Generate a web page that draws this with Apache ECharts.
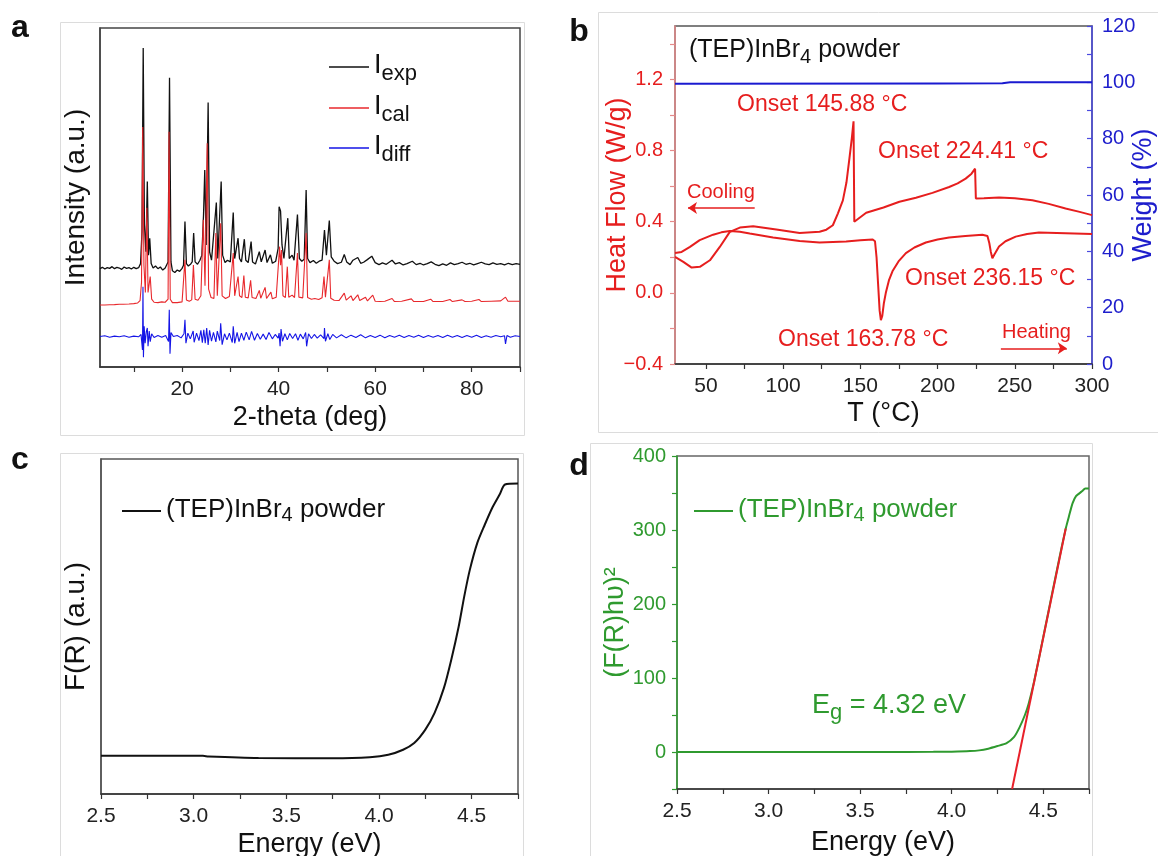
<!DOCTYPE html>
<html><head><meta charset="utf-8">
<script src="https://cdn.jsdelivr.net/npm/echarts@6/dist/echarts.min.js"></script>
<style>html,body{margin:0;padding:0;background:#fff}#c{width:1158px;height:856px}</style>
</head><body><div id="c"></div>
<script>
// ---------- Panel a : XRD ----------
const xrdExp = [[3,29.0],[3.5,29.4],[4,28.9],[4.5,29.3],[5,29.1],[5.5,29.6],[6,29.0],[6.5,29.4],[7,29.2],[7.5,28.8],[8,29.5],[8.5,29.1],[9,29.3],[9.5,28.9],[10,29.4],[10.5,29.0],[11,29.3],[11.4,30.5],[11.7,40],[11.95,94.1],[12.2,42],[12.5,34],[12.8,54.7],[13.05,33],[13.3,38],[13.6,30.5],[14,29.2],[14.5,29.8],[15,29],[15.5,29.5],[16,28.6],[16.5,29.2],[17.1,31],[17.4,85.3],[17.7,31],[18,28.4],[18.5,27.9],[19,28.6],[19.5,28.2],[20,29.1],[20.3,30],[20.6,42.9],[20.9,30.5],[21.3,29.8],[21.8,30.4],[22.1,31],[22.4,39.5],[22.7,31],[23.2,30.3],[23.7,31.5],[24.1,33],[24.45,45],[24.7,58.1],[25.0,36],[25.4,78.0],[25.7,34],[26.1,31.5],[26.5,31.0],[27.1,48.5],[27.4,32],[27.8,31.5],[28.1,54.7],[28.4,33],[28.9,30.8],[29.4,31.5],[30.0,31],[30.6,45.6],[30.9,32],[31.3,31.5],[31.6,38],[31.9,32],[32.3,31],[32.9,37.7],[33.2,31.5],[33.7,30.8],[34.3,37],[34.6,31],[35.2,30.4],[36.0,34],[36.4,31],[37.2,34.5],[37.6,30.8],[38.3,33.1],[38.7,30.6],[39.4,31.2],[39.9,35],[40.1,47.3],[40.4,46],[40.7,36],[41.1,32],[41.9,43.9],[42.2,32],[42.8,33],[43.2,31.5],[43.9,45],[44.3,32],[44.8,31.2],[45.3,31.8],[45.7,52.2],[46.0,32],[46.5,30.8],[47.2,31.4],[47.8,30.6],[48.4,31.2],[49.0,31.5],[49.5,40.4],[49.9,33],[50.5,43.2],[50.9,32.5],[51.5,31.2],[52.2,30.5],[53.0,30.9],[53.6,33.2],[54.1,31],[54.8,30.2],[55.4,31.5],[56.4,32.3],[57,30.6],[57.6,30.9],[58.3,31.6],[59.3,32.7],[60,30.8],[60.8,30.2],[61.5,30.7],[62.3,30.3],[63.5,31.5],[64.2,30.4],[65,30.8],[65.8,30.1],[66.6,30.5],[67.7,31.2],[68.5,30.2],[69.3,30.6],[70,30.1],[70.8,30.5],[71.6,31.0],[72.4,30.3],[73.2,29.9],[74,30.4],[74.8,30.0],[75.6,30.7],[76.4,30.2],[77.2,30.5],[78,30.9],[78.8,30.3],[79.6,30.6],[80.4,30.1],[81.2,30.5],[82,30.9],[82.8,30.4],[83.6,30.2],[84.4,30.7],[85.2,30.3],[86,30.5],[86.8,30.1],[87.6,30.6],[88.4,30.2],[89.2,30.5],[90,30.3]];
const xrdCal = [[3,18.3],[4,18.3],[5,18.35],[6,18.4],[7,18.5],[7.4,18.9],[7.8,18.5],[9,18.6],[10,18.7],[10.8,18.9],[11.3,19.6],[11.6,25],[11.85,70.8],[12.1,30],[12.4,22],[12.7,47],[12.95,22],[13.4,26.7],[13.7,20],[14.2,19.1],[15,19],[15.8,19.2],[16.5,19.1],[17.1,20],[17.3,69.4],[17.55,20],[18,19],[19,19],[20,19.2],[20.3,19.6],[20.6,31.6],[20.9,19.8],[21.5,19.4],[22,19.8],[22.35,30.1],[22.7,20],[23.3,19.7],[23.9,21],[24.4,43.4],[24.75,24],[25.2,66],[25.5,23],[26,20.5],[26.6,20.2],[27.0,39.5],[27.3,21],[27.7,20.5],[28.0,42.4],[28.3,21],[29,20.2],[29.8,20.8],[30.6,33.6],[30.9,21],[31.3,20.6],[31.6,26.7],[31.9,21],[32.4,20.5],[32.8,27],[33.1,20.6],[33.7,20.4],[34.2,25.6],[34.5,20.5],[35.3,20.2],[36,22.6],[36.3,20.3],[37.2,23.5],[37.5,20.2],[38.4,22.1],[38.7,20.1],[39.5,20.6],[40.2,35.5],[40.4,30],[40.6,34.5],[40.9,21],[41.4,20.5],[41.8,29.6],[42.1,20.6],[42.8,21.2],[43.3,20.5],[43.9,33.6],[44.2,20.6],[45,20.4],[45.7,39.5],[46,20.5],[46.8,20],[47.5,20.2],[48.3,19.9],[49,20.4],[49.4,26.7],[49.7,20.6],[50.5,31.6],[50.8,20.3],[51.5,19.7],[52.5,19.6],[53.6,21.8],[54,19.7],[55,21],[55.4,19.6],[56.4,21.3],[56.8,19.6],[58,20.6],[58.4,19.5],[59.5,21.2],[60,19.4],[61,19.3],[62,19.4],[63.5,20.2],[64,19.3],[65.5,19.4],[67.5,20.1],[68,19.3],[70,19.3],[71.5,20],[72,19.3],[74,19.3],[75.5,19.9],[76,19.3],[78,19.8],[78.6,19.3],[80,19.4],[81.5,19.9],[82,19.3],[84,19.4],[86,19.5],[87,20.6],[87.5,19.4],[89,19.4],[90,19.4]];
const xrdDiff = [[3,9.0],[4,9.2],[5,8.8],[6,9.1],[7,8.9],[8,9.2],[9,8.8],[10,9.1],[11,8.9],[11.5,9.6],[11.8,5],[11.9,23.7],[12.0,2.9],[12.15,12],[12.35,7],[12.6,10.5],[12.8,11.5],[12.95,6.1],[13.2,10.6],[13.4,7.5],[13.7,9.8],[14.2,8.7],[15,9.3],[15.8,8.8],[16.6,9.3],[17.2,7.5],[17.35,16.9],[17.5,3.9],[17.7,10.2],[18.2,9.0],[19,9.3],[19.8,8.6],[20.4,9.8],[20.6,13.9],[20.8,7.0],[21.2,10.0],[21.7,8.3],[22.3,10.6],[22.5,7.3],[23,10],[23.5,7.8],[23.9,10.8],[24.2,7.2],[24.5,11],[24.8,7],[25.1,11.5],[25.4,6.5],[25.7,10.8],[26.1,7.6],[26.5,10.2],[27,7.4],[27.3,10.6],[27.8,7.8],[28.0,12.9],[28.3,6.6],[28.8,9.8],[29.3,8.0],[29.8,10],[30.4,7.2],[30.6,12],[30.9,7],[31.4,10.2],[31.8,7.5],[32.3,10],[32.8,7.9],[33.3,10.3],[33.9,8],[34.4,10.5],[35,7.9],[35.6,9.9],[36.2,8.2],[36.8,9.7],[37.4,8.1],[38,10.2],[38.7,8.3],[39.3,9.6],[39.9,8.5],[40.1,10],[40.3,6.1],[40.5,11.2],[40.8,7.6],[41.3,9.8],[41.8,8],[42.3,9.9],[42.9,8.4],[43.5,9.8],[44,7.9],[44.5,9.7],[45.1,8.3],[45.6,10.2],[45.8,6.1],[46.2,9.8],[46.8,8.4],[47.4,9.6],[48,8.5],[48.7,9.5],[49.4,8.4],[49.5,11.5],[49.7,7.6],[50.2,9.8],[50.6,8.1],[51.2,9.6],[52,8.6],[53,9.5],[54,8.6],[55,9.4],[56,8.7],[57,9.5],[58,8.6],[59,9.3],[60,8.7],[61,9.4],[62,8.6],[63,9.3],[64,8.8],[65,9.4],[66,8.7],[67,9.3],[68,8.8],[69,9.4],[70,8.7],[71,9.3],[72,8.8],[73,9.3],[74,8.7],[75,9.4],[76,8.8],[77,9.3],[78,8.7],[79,9.3],[80,8.8],[81,9.4],[82,8.7],[83,9.2],[84,8.8],[85,9.3],[86,8.9],[86.8,9.2],[87,6.8],[87.3,9.3],[88,8.8],[89,9.2],[90,9.0]];
const aTicks = [10,20,30,40,50,60,70,80,90];
const aLabels = [20,40,60,80];

// ---------- Panel b : DSC / TGA ----------
const dscHeating = [[30,0.224],[34.3,0.230],[39.7,0.258],[46,0.296],[54.7,0.327],[60,0.34],[65.5,0.348],[72,0.343],[78.4,0.333],[93.5,0.311],[110.7,0.292],[123.6,0.283],[140.8,0.288],[150,0.295],[158,0.300],[159.5,0.29],[160.5,0.2],[161.5,0.05],[162.5,-0.1],[163.3,-0.153],[164.2,-0.13],[165.2,-0.06],[166.5,0.0],[168.5,0.07],[170.8,0.121],[175,0.18],[179.5,0.223],[185,0.255],[192.4,0.283],[200,0.300],[207.5,0.311],[218,0.32],[229,0.326],[232.3,0.32],[233.5,0.28],[234.5,0.23],[235.5,0.195],[236.8,0.215],[239.8,0.26],[244,0.29],[250.6,0.316],[258,0.331],[265.6,0.339],[282.9,0.335],[300,0.331]];
const dscCooling = [[30,0.202],[35.4,0.174],[40.8,0.142],[46.1,0.146],[52.6,0.183],[59,0.258],[65.5,0.343],[72,0.367],[80.6,0.374],[95.6,0.356],[110.7,0.337],[123.6,0.343],[128,0.355],[132.2,0.38],[135.5,0.447],[138.7,0.52],[141,0.62],[143,0.76],[144.5,0.87],[145.6,0.964],[146.1,0.40],[153.8,0.45],[165,0.48],[175.3,0.512],[186,0.535],[196.7,0.562],[207.5,0.595],[213,0.615],[218.2,0.642],[222,0.67],[224.3,0.698],[224.8,0.530],[230,0.532],[239.8,0.536],[250,0.532],[261.4,0.521],[272,0.50],[282.9,0.474],[292,0.455],[300,0.437]];
const tgaWeight = [[30,99.5],[200,99.6],[242,99.7],[247,100],[300,100]];
const coolingArrow = [[81.6,0.477],[38.4,0.477]];
const heatingArrow = [[241,-0.312],[283.7,-0.312]];
const bXTicks = [50,75,100,125,150,175,200,225,250,275,300];
const bXLabels = [50,100,150,200,250,300];
const bHFTicks = [-0.4,-0.2,0,0.2,0.4,0.6,0.8,1.0,1.2,1.4];
const bHFLabels = [-0.4,0,0.4,0.8,1.2];
const bWTicks = [0,10,20,30,40,50,60,70,80,90,100,110,120];
const bWLabels = [0,20,40,60,80,100,120];

// ---------- Panel c : F(R) ----------
const frData = [[2.5,11.4],[3.05,11.4],[3.08,11.2],[3.35,10.75],[3.75,10.7],[3.95,11.0],[4.05,11.7],[4.13,13.2],[4.19,15.2],[4.25,19.2],[4.3,24.2],[4.35,31.6],[4.39,40.1],[4.43,50],[4.46,59],[4.49,66.9],[4.53,74.9],[4.57,80.3],[4.61,85.3],[4.65,89.3],[4.68,92.4],[4.75,92.7]];
// ---------- Panel d : Tauc ----------
const taucData = [[2.5,0],[2.8,0],[3.0,0.1],[3.3,0],[3.6,0.1],[3.9,0.2],[4.0,0.5],[4.1,1.2],[4.15,2.2],[4.2,4.5],[4.25,8],[4.3,12],[4.34,20],[4.37,33],[4.4,50],[4.42,65],[4.45,95],[4.5,155],[4.55,216],[4.6,276],[4.625,304],[4.64,318],[4.66,336],[4.68,346],[4.71,352],[4.73,356],[4.75,356]];
const taucFit = [[4.33,-50],[4.623,302]];
const eTicks = [2.5,2.75,3.0,3.25,3.5,3.75,4.0,4.25,4.5,4.75];
const eLabels = [2.5,3.0,3.5,4.0,4.5];
const dYTicks = [-50,0,50,100,150,200,250,300,350,400];
const dYLabels = [0,100,200,300,400];

const FONT = '"Liberation Sans", Arial, sans-serif';
const RED = '#e61e1e', BLUE = '#1e1ecc', GREEN = '#2f9a2f';

function xAx(grid, min, max, ticks, labels, name, gap, fmt, lineColor) {
  return {
    type:'value', gridIndex:grid, min:min, max:max, nameMoveOverlap:false,
    name:name, nameLocation:'middle', nameGap:gap,
    nameTextStyle:{fontFamily:FONT, fontSize:27, color:'#111'},
    axisLine:{show:true, onZero:false, lineStyle:{color:lineColor||'#333', width:1.5}},
    axisTick:{show:true, inside:false, length:5, customValues:ticks, lineStyle:{color:'#333', width:1.2}},
    axisLabel:{show:true, customValues:labels, margin:12, fontFamily:FONT, fontSize:21, color:'#222', formatter:fmt},
    splitLine:{show:false}
  };
}
const f1 = v => v.toFixed(1);
const fInt = v => String(v);

function legendA(name, top) {
  const sub = {I_exp:'exp', I_cal:'cal', I_diff:'diff'}[name];
  return {left:329, top:top, padding:0, orient:'vertical', selectedMode:false, data:[name], icon:'rect', itemWidth:40, itemHeight:1.6,
    formatter:()=> '{m|I}{s|' + sub + '}',
    textStyle:{padding:[14,0,0,0], rich:{
      m:{fontFamily:FONT, fontSize:27, lineHeight:27, verticalAlign:'top', color:'#111'},
      s:{fontFamily:FONT, fontSize:22, lineHeight:44, verticalAlign:'middle', color:'#111'}}}};
}
function richSub(color) {
  return {m:{fontFamily:FONT, fontSize:26, lineHeight:26, verticalAlign:'top', color:color},
          s:{fontFamily:FONT, fontSize:20, lineHeight:36, verticalAlign:'middle', color:color}};
}
function richSubG(color, fs, ss) {
  return {m:{fontFamily:FONT, fontSize:fs, lineHeight:fs, verticalAlign:'top', fill:color},
          s:{fontFamily:FONT, fontSize:ss, lineHeight:fs+14, verticalAlign:'middle', fill:color}};
}
function lbl(t, x, y) {
  return {type:'text', x:x, y:y, silent:true, style:{text:t, font:'bold 32px ' + FONT, fill:'#111', textAlign:'center', textVerticalAlign:'middle'}};
}
function ann(t, x, y, fs) {
  return {type:'text', x:x, y:y, silent:true, style:{text:t, font:fs + 'px ' + FONT, fill:RED, textAlign:'left', textVerticalAlign:'middle'}};
}

const option = {
  animation:false,
  backgroundColor:'#fff',
  grid:[
    {left:100, top:28, width:420, height:339, show:true, borderColor:'#444', borderWidth:1.5, outerBoundsMode:'none'},
    {left:675, top:26, width:417, height:338, show:true, borderColor:'#555', borderWidth:1.5, outerBoundsMode:'none'},
    {left:101, top:459, width:417, height:335, show:true, borderColor:'#555', borderWidth:1.5, outerBoundsMode:'none'},
    {left:677, top:456, width:412, height:333, show:true, borderColor:'#666', borderWidth:1.5, outerBoundsMode:'none'}
  ],
  xAxis:[
    xAx(0, 3, 90, aTicks, aLabels, '2-theta (deg)', 37, fInt),
    xAx(1, 30, 300, bXTicks, bXLabels, 'T (°C)', 36, fInt),
    xAx(2, 2.5, 4.75, eTicks, eLabels, 'Energy (eV)', 37, f1),
    xAx(3, 2.5, 4.75, eTicks, eLabels, 'Energy (eV)', 40, f1)
  ],
  yAxis:[
    {type:'value', gridIndex:0, min:0, max:100, nameMoveOverlap:false, name:'Intensity (a.u.)', nameLocation:'middle', nameGap:10, nameRotate:90,
      nameTextStyle:{fontFamily:FONT, fontSize:28, color:'#111'},
      axisLine:{show:true, onZero:false, lineStyle:{color:'#444', width:1.5}}, axisTick:{show:false}, axisLabel:{show:false}, splitLine:{show:false}},
    {type:'value', gridIndex:1, min:-0.4, max:1.5, position:'left', nameMoveOverlap:false, name:'Heat Flow (W/g)', nameLocation:'middle', nameGap:44, nameRotate:90,
      nameTextStyle:{fontFamily:FONT, fontSize:27, color:RED},
      axisLine:{show:true, onZero:false, lineStyle:{color:'#e58a8a', width:1.5}},
      axisTick:{show:true, length:5, customValues:bHFTicks, lineStyle:{color:'#e58a8a', width:1.2}},
      axisLabel:{show:true, customValues:bHFLabels, margin:12, fontFamily:FONT, fontSize:20, color:RED, formatter: v => (v<0?'\u2212':'') + Math.abs(v).toFixed(1)},
      splitLine:{show:false}},
    {type:'value', gridIndex:1, min:0, max:120, position:'right', nameMoveOverlap:false, name:'Weight (%)', nameLocation:'middle', nameGap:38, nameRotate:90,
      nameTextStyle:{fontFamily:FONT, fontSize:27, color:BLUE},
      axisLine:{show:true, onZero:false, lineStyle:{color:'#4a4ae0', width:1.5}},
      axisTick:{show:true, inside:true, length:5, customValues:bWTicks, lineStyle:{color:'#4a4ae0', width:1.2}},
      axisLabel:{show:true, customValues:bWLabels, margin:10, fontFamily:FONT, fontSize:20, color:BLUE},
      splitLine:{show:false}},
    {type:'value', gridIndex:2, min:0, max:100, nameMoveOverlap:false, name:'F(R) (a.u.)', nameLocation:'middle', nameGap:11, nameRotate:90,
      nameTextStyle:{fontFamily:FONT, fontSize:28, color:'#111'},
      axisLine:{show:true, onZero:false, lineStyle:{color:'#555', width:1.5}}, axisTick:{show:false}, axisLabel:{show:false}, splitLine:{show:false}},
    {type:'value', gridIndex:3, min:-50, max:400, nameMoveOverlap:false, name:'(F(R)h\u03c5)\u00b2', nameLocation:'middle', nameGap:48, nameRotate:90,
      nameTextStyle:{fontFamily:FONT, fontSize:27, color:GREEN},
      axisLine:{show:true, onZero:false, lineStyle:{color:GREEN, width:1.5}},
      axisTick:{show:true, length:5, customValues:dYTicks, lineStyle:{color:GREEN, width:1.2}},
      axisLabel:{show:true, customValues:dYLabels, margin:11, fontFamily:FONT, fontSize:20, color:GREEN},
      splitLine:{show:false}}
  ],
  legend:[
    legendA('I_exp', 52), legendA('I_cal', 93), legendA('I_diff', 133),
    {left:122, top:497, padding:0, orient:'horizontal', selectedMode:false, data:['c_powder'], icon:'rect', itemWidth:39, itemHeight:2,
      formatter:()=> '{m|(TEP)InBr}{s|4}{m| powder}',
      textStyle:{padding:[8,0,0,0], rich:richSub('#111')}},
    {left:694, top:497, padding:0, orient:'horizontal', selectedMode:false, data:['d_powder'], icon:'rect', itemWidth:39, itemHeight:2,
      formatter:()=> '{m|(TEP)InBr}{s|4}{m| powder}',
      textStyle:{padding:[8,0,0,0], rich:richSub(GREEN)}}
  ],
  series:[
    {name:'I_exp', type:'line', xAxisIndex:0, yAxisIndex:0, data:xrdExp, symbol:'none', color:'#111', lineStyle:{color:'#111', width:1.3}},
    {name:'I_cal', type:'line', xAxisIndex:0, yAxisIndex:0, data:xrdCal, symbol:'none', color:'#e8282c', lineStyle:{color:'#e8282c', width:1.1}},
    {name:'I_diff', type:'line', xAxisIndex:0, yAxisIndex:0, data:xrdDiff, symbol:'none', color:'#1515e6', lineStyle:{color:'#1515e6', width:1.1}},
    {name:'Heating', type:'line', xAxisIndex:1, yAxisIndex:1, data:dscHeating, symbol:'none', color:RED, lineStyle:{color:RED, width:2},
      markLine:{silent:true, symbol:['none','arrow'], symbolSize:9, label:{show:false}, lineStyle:{color:RED, width:1.5, type:'solid'},
        data:[[{coord:coolingArrow[0]},{coord:coolingArrow[1]}],[{coord:heatingArrow[0]},{coord:heatingArrow[1]}]]}},
    {name:'Cooling', type:'line', xAxisIndex:1, yAxisIndex:1, data:dscCooling, symbol:'none', color:RED, lineStyle:{color:RED, width:2}},
    {name:'Weight', type:'line', xAxisIndex:1, yAxisIndex:2, data:tgaWeight, symbol:'none', color:'#1a1ad0', lineStyle:{color:'#1a1ad0', width:2}},
    {name:'c_powder', type:'line', xAxisIndex:2, yAxisIndex:3, data:frData, symbol:'none', smooth:0.25, color:'#111', lineStyle:{color:'#111', width:2}},
    {name:'d_powder', type:'line', xAxisIndex:3, yAxisIndex:4, data:taucData, symbol:'none', smooth:0.2, color:GREEN, lineStyle:{color:GREEN, width:2}},
    {name:'fit', type:'line', xAxisIndex:3, yAxisIndex:4, data:taucFit, symbol:'none', color:'#e8202a', lineStyle:{color:'#e8202a', width:2}}
  ],
  graphic:[
    {type:'rect', shape:{x:60.5, y:22.5, width:464, height:413}, style:{fill:'none', stroke:'#dcdcdc', lineWidth:1}, silent:true},
    {type:'rect', shape:{x:598.5, y:12.5, width:570, height:420}, style:{fill:'none', stroke:'#dcdcdc', lineWidth:1}, silent:true},
    {type:'rect', shape:{x:60.5, y:453.5, width:463, height:420}, style:{fill:'none', stroke:'#dcdcdc', lineWidth:1}, silent:true},
    {type:'rect', shape:{x:590.5, y:443.5, width:502, height:430}, style:{fill:'none', stroke:'#dcdcdc', lineWidth:1}, silent:true},
    lbl('a', 20, 28), lbl('b', 579, 32), lbl('c', 20, 460), lbl('d', 579, 466),
    {type:'text', x:689, y:57, silent:true, style:{text:'{m|(TEP)InBr}{s|4}{m| powder}', textAlign:'left', textVerticalAlign:'middle', rich:richSubG('#111', 25, 20)}},
    ann('Onset 145.88 °C', 737, 105, 23), ann('Onset 224.41 °C', 878, 152, 23),
    ann('Onset 236.15 °C', 905, 279, 23), ann('Onset 163.78 °C', 778, 340, 23),
    ann('Cooling', 687, 192, 20), ann('Heating', 1002, 332, 20),
    {type:'text', x:812, y:713, silent:true, style:{text:'{m|E}{s|g}{m| = 4.32 eV}', textAlign:'left', textVerticalAlign:'middle', rich:richSubG(GREEN, 27, 22)}}
  ]
};

const chart = echarts.init(document.getElementById('c'), null, {renderer:'canvas'});
chart.setOption(option);
</script></body></html>
